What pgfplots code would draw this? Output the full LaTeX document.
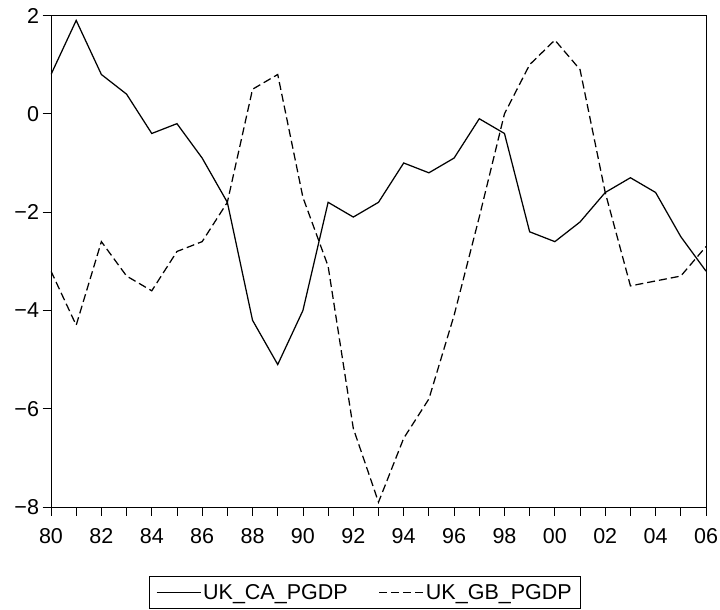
\documentclass[border=0pt]{standalone}
\usepackage{pgfplots}
\pgfplotsset{compat=1.18}
\usepackage{fontspec}
\setmainfont{Liberation Sans}
\begin{document}
\begin{tikzpicture}
\begin{axis}[
  scale only axis,
  width=655pt, height=491.6pt,
  xmin=1980, xmax=2006, ymin=-8, ymax=2,
  axis line style={line width=0.8pt},
  tick style={line width=0.8pt, black},
  tick align=outside,
  major tick length=8.5pt, minor tick length=8.5pt,
  xtick pos=bottom, ytick pos=left,
  xtick={1980,1982,...,2006},
  xticklabels={80,82,84,86,88,90,92,94,96,98,00,02,04,06},
  minor xtick={1981,1983,...,2005},
  ytick={-8,-6,-4,-2,0,2},
  yticklabels={−8,−6,−4,−2,0,2},
  tick label style={font=\fontsize{21.5}{25}\selectfont},
  every x tick label/.append style={yshift=-9pt},
  legend columns=2,
  legend style={at={(axis description cs:0.1496,-0.1395)}, anchor=north west,
    draw=black, line width=0.8pt, inner xsep=6.5pt, inner ysep=6pt,
    font=\fontsize{21.5}{25}\selectfont,
    nodes={inner xsep=2pt},
    /tikz/every even column/.append style={column sep=29pt, text depth=14pt}},
  legend image code/.code={\draw[#1] (0pt,0pt) -- (44pt,0pt);},
]
\addplot[black, line width=1.25pt] coordinates {
(1980,0.8) (1981,1.9) (1982,0.8) (1983,0.4) (1984,-0.4) (1985,-0.2) (1986,-0.9)
(1987,-1.8) (1988,-4.2) (1989,-5.1) (1990,-4.0) (1991,-1.8) (1992,-2.1) (1993,-1.8)
(1994,-1.0) (1995,-1.2) (1996,-0.9) (1997,-0.1) (1998,-0.4) (1999,-2.4) (2000,-2.6)
(2001,-2.2) (2002,-1.6) (2003,-1.3) (2004,-1.6) (2005,-2.5) (2006,-3.2)};
\addlegendentry{UK\_CA\_PGDP}
\addplot[black, line width=1.25pt, dash pattern=on 8pt off 4pt] coordinates {
(1980,-3.2) (1981,-4.3) (1982,-2.6) (1983,-3.3) (1984,-3.6) (1985,-2.8) (1986,-2.6)
(1987,-1.8) (1988,0.5) (1989,0.8) (1990,-1.7) (1991,-3.1) (1992,-6.4) (1993,-7.9)
(1994,-6.6) (1995,-5.8) (1996,-4.1) (1997,-2.1) (1998,0.0) (1999,1.0) (2000,1.5)
(2001,0.9) (2002,-1.6) (2003,-3.5) (2004,-3.4) (2005,-3.3) (2006,-2.7)};
\addlegendentry{UK\_GB\_PGDP}
\end{axis}
\pgfresetboundingbox
\path (-51pt,-102.9pt) rectangle (669pt,507.1pt);
\end{tikzpicture}
\end{document}
